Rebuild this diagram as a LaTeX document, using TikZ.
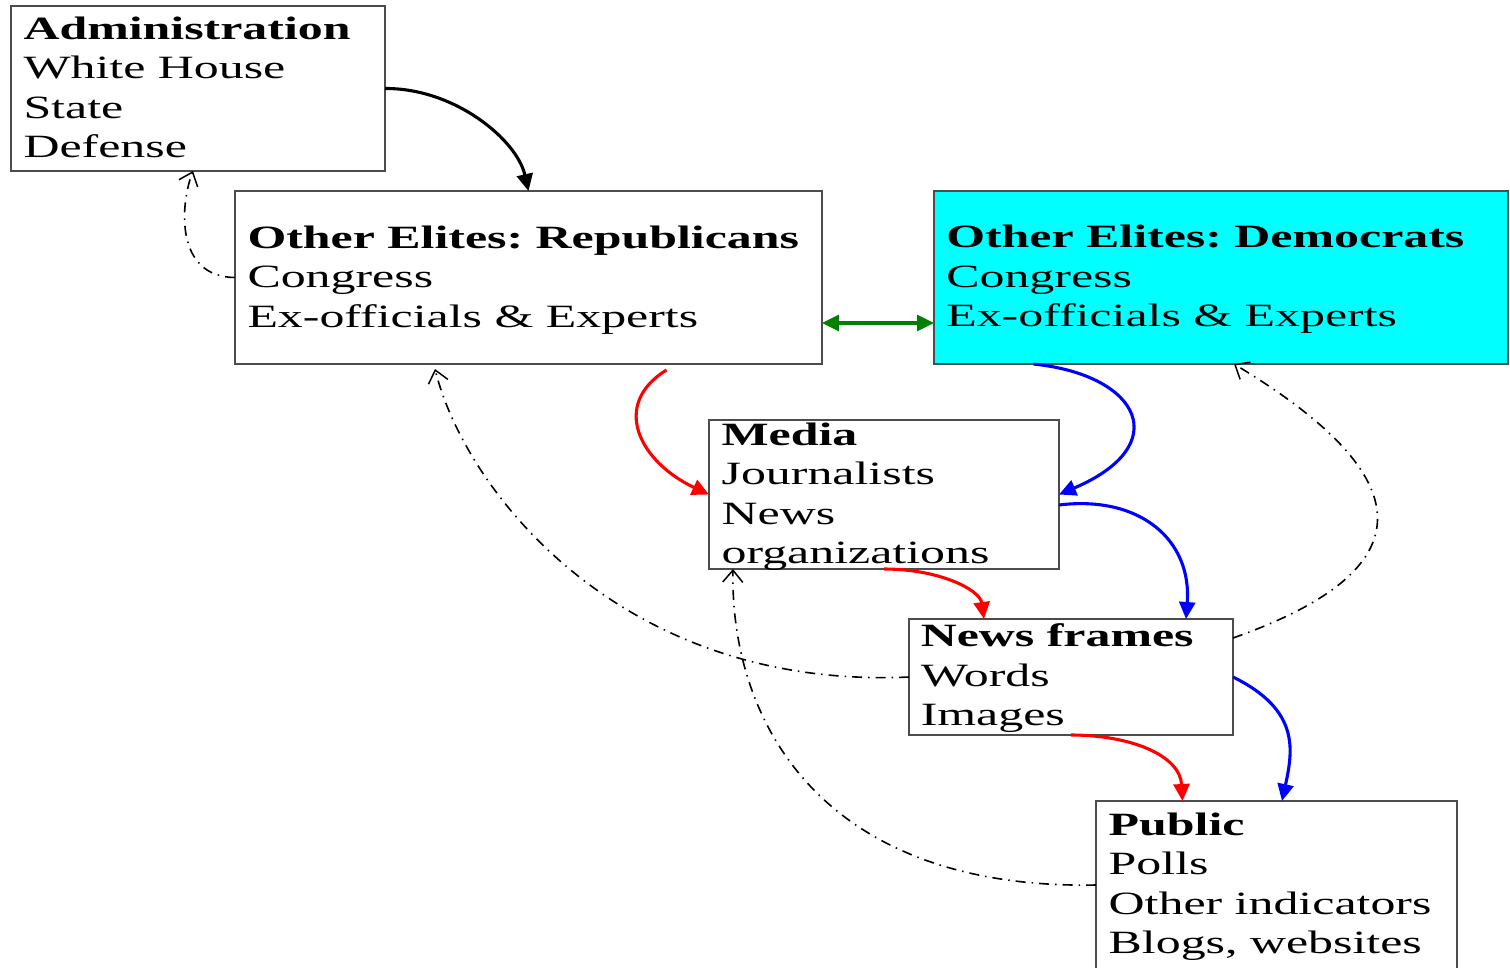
\documentclass[tikz,border=0pt]{standalone}
\usepackage{fontspec}
\setmainfont{Liberation Serif}[FakeStretch=1.535]
\usetikzlibrary{arrows.meta}
\definecolor{dgreen}{RGB}{0,128,0}
\definecolor{aqua}{RGB}{0,255,255}
\frenchspacing
\begin{document}
\begin{tikzpicture}[x=1pt,y=-1pt,
  box/.style={draw=black!70, line width=1.3pt, inner sep=0pt, outer sep=0pt, anchor=north west},
  txt/.style={anchor=base west, inner sep=0pt, outer sep=0pt, font=\fontsize{32.5}{39.5}\selectfont},
  flow/.style={line width=3.1pt, -{Triangle[length=17pt,width=16pt]}},
  fb/.style={line width=1.6pt, dash pattern=on 10pt off 6pt on 1.5pt off 6pt,
    -{Straight Barb[length=12pt,width=20pt,line width=1.5pt]}}
]
\useasboundingbox (0,0) rectangle (1510,967);

% boxes
\node[box, minimum width=374pt, minimum height=165pt] (admin) at (11,6) {};
\node[box, minimum width=587pt, minimum height=173pt] (rep) at (235,191) {};
\node[box, fill=aqua, minimum width=574pt, minimum height=173pt] (dem) at (934,191) {};
\node[box, minimum width=350pt, minimum height=149pt] (media) at (709,420) {};
\node[box, minimum width=324pt, minimum height=116pt] (nf) at (909,619) {};
\node[box, minimum width=361pt, minimum height=170pt] (pub) at (1096,801) {};

% texts
\node[txt] (adminT) at ([shift={(12.5,33.3)}]admin.north west)
  {\vtop{\hbox{\bfseries Administration}\hbox{White House}\hbox{State}\hbox{Defense}}};
\node[txt] (repT) at ([shift={(12.5,57.3)}]rep.north west)
  {\vtop{\hbox{\bfseries Other Elites: Republicans}\hbox{Congress}\hbox{Ex-officials \& Experts}}};
\node[txt] (demT) at ([shift={(12.3,56.5)}]dem.north west)
  {\vtop{\hbox{\bfseries Other Elites: Democrats}\hbox{Congress}\hbox{Ex-officials \& Experts}}};
\node[txt] (mediaT) at ([shift={(12.6,25)}]media.north west)
  {\vtop{\hbox{\bfseries Media}\hbox{Journalists}\hbox{News}\hbox{organizations}}};
\node[txt] (nfT) at ([shift={(11.8,27.7)}]nf.north west)
  {\vtop{\hbox{\bfseries News frames}\hbox{Words}\hbox{Images}}};
\node[txt] (pubT) at ([shift={(12.7,34)}]pub.north west)
  {\vtop{\hbox{\bfseries Public}\hbox{Polls}\hbox{Other indicators}\hbox{Blogs, websites}}};

% connectors
\draw[flow] (admin.east) .. controls (455,88) and (517,140) .. (rep.north);
\draw[fb] (rep.west) .. controls (175,277) and (180,205) .. ([xshift=182pt]admin.south west);
\draw[line width=3.1pt, dgreen, {Triangle[length=17pt,width=16pt]}-{Triangle[length=17pt,width=16pt]}]
  ([shift={(0,45.5)}]rep.east) -- ([shift={(0,45.5)}]dem.west);
\draw[flow, red] ([shift={(138,6)}]rep.south) .. controls (610,405) and (640,462) .. (media.west);
\draw[flow, blue] ([shift={(99.5,0)}]dem.south west) .. controls (1140,375) and (1175,445) .. (media.east);
\draw[flow, blue] ([shift={(0,10.5)}]media.east) .. controls (1140,495) and (1192,540) .. ([shift={(277,0)}]nf.north west);
\draw[flow, red] (media.south) .. controls (940,569) and (980,590) .. ([shift={(75,0)}]nf.north west);
\draw[fb] (nf.west) .. controls (620,690) and (465,490) .. ([shift={(-93.5,5)}]rep.south);
\draw[fb] ([shift={(0,19)}]nf.north east) .. controls (1440,565) and (1410,470) .. ([shift={(300,0)}]dem.south west);
\draw[flow, blue] (nf.east) .. controls (1300,710) and (1293,750) .. ([shift={(186,0)}]pub.north west);
\draw[flow, red] (nf.south) .. controls (1130,735) and (1180,755) .. ([shift={(86.5,0)}]pub.north west);
\draw[fb] ([shift={(0,84)}]pub.north west) .. controls (820,890) and (730,720) .. ([shift={(24,0)}]media.south west);
\end{tikzpicture}
\end{document}
